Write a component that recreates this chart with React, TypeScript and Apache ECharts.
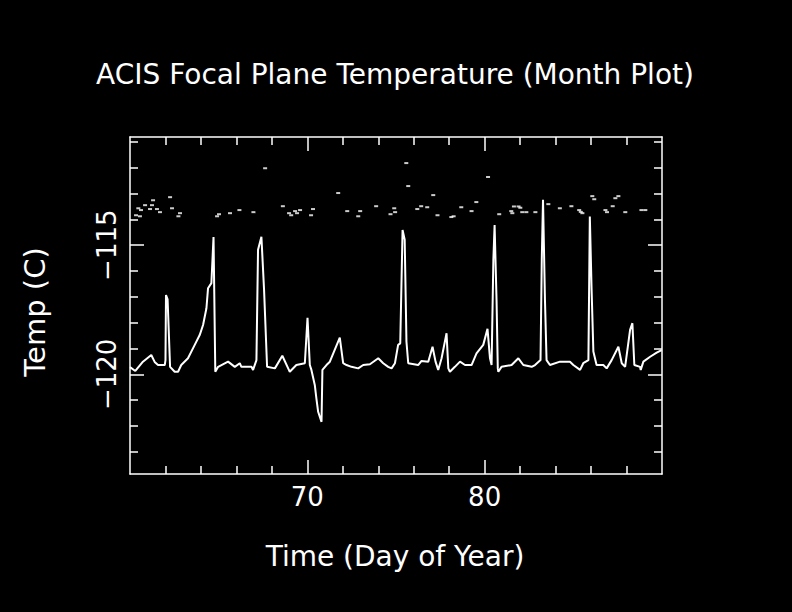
import React, { useEffect, useRef } from "react";
import * as echarts from "echarts";

// Axis ranges and ticks
const X_MIN = 60;
const X_MAX = 90;
const Y_MIN = -123.86;
const Y_MAX = -110.81;
const dayTicksMinor = [62, 64, 66, 68, 72, 74, 76, 78, 82, 84, 86, 88];
const dayTicksMajor = [70, 80];
const tempTicksMinor = [-123, -122, -121, -119, -118, -117, -116, -114, -113, -112, -111];
const tempTicksMajor = [-120, -115];

// Focal plane temperature (main trace)
const focalDays = [
  60.0, 60.3, 60.73, 61.2, 61.39, 61.58, 61.96, 62.0, 62.03, 62.12, 62.26, 62.52, 62.71, 62.89, 63.27, 63.65,
  63.93, 64.12, 64.31, 64.4, 64.59, 64.71, 64.81, 64.97, 65.53, 65.91, 66.19, 66.28, 66.85, 66.94, 67.13,
  67.22, 67.41, 67.56, 67.73, 68.17, 68.59, 68.92, 69.01, 69.38, 69.86, 70.01, 70.14, 70.23, 70.42, 70.51,
  70.61, 70.8, 70.85, 71.08, 71.27, 71.83, 72.02, 72.21, 72.49, 72.87, 73.15, 73.53, 74.0, 74.28, 74.56,
  74.75, 74.94, 75.12, 75.24, 75.37, 75.49, 75.59, 75.69, 76.25, 76.44, 76.82, 77.06, 77.23, 77.38, 77.57,
  77.85, 77.95, 78.04, 78.32, 78.61, 78.89, 79.26, 79.54, 79.92, 80.16, 80.3, 80.39, 80.49, 80.56, 80.67,
  80.74, 80.77, 80.95, 81.52, 81.9, 82.18, 82.65, 82.84, 83.15, 83.22, 83.29, 83.4, 83.49, 83.68, 84.25,
  84.81, 85.0, 85.38, 85.56, 85.85, 85.93, 86.03, 86.13, 86.31, 86.69, 86.88, 87.16, 87.54, 87.73, 87.92,
  88.2, 88.33, 88.44, 88.76, 88.8, 88.95, 89.33, 89.7, 89.98,
];
const focalTemps = [
  -119.72, -119.87, -119.51, -119.25, -119.52, -119.64, -119.64, -119.45, -116.93, -117.1, -119.71, -119.9,
  -119.9, -119.64, -119.38, -118.86, -118.48, -118.09, -117.44, -116.67, -116.47, -114.68, -119.9, -119.71,
  -119.51, -119.71, -119.57, -119.71, -119.71, -119.83, -119.45, -115.18, -114.67, -116.73, -119.71, -119.77,
  -119.28, -119.77, -119.9, -119.64, -119.57, -117.81, -119.64, -119.83, -120.41, -120.93, -121.45, -121.84,
  -119.83, -119.64, -119.51, -118.58, -119.57, -119.64, -119.71, -119.77, -119.64, -119.61, -119.38, -119.57,
  -119.71, -119.77, -119.57, -118.86, -118.8, -114.41, -114.79, -118.74, -119.57, -119.64, -119.48, -119.51,
  -118.93, -119.51, -119.83, -119.38, -118.41, -119.77, -119.9, -119.71, -119.51, -119.64, -119.64, -119.19,
  -118.86, -118.24, -119.38, -119.64, -115.57, -114.22, -117.12, -119.77, -119.9, -119.71, -119.64, -119.38,
  -119.64, -119.71, -119.64, -119.45, -115.57, -113.24, -117.12, -119.45, -119.64, -119.51, -119.51, -119.64,
  -119.83, -119.57, -119.45, -113.89, -116.73, -119.12, -119.64, -119.64, -119.77, -119.45, -118.93, -119.57,
  -119.71, -118.28, -118.02, -119.64, -119.71, -119.83, -119.51, -119.32, -119.16, -119.06,
];

// Scattered upper readings
const scatterDays = [
  60.34, 60.47, 60.56, 60.62, 60.85, 61.13, 61.24, 61.3, 61.52, 61.69, 62.26, 62.37, 62.73, 62.82, 64.91,
  65.02, 65.64, 66.17, 66.96, 67.62, 68.62, 68.97, 69.09, 69.31, 69.42, 69.59, 70.21, 70.32, 71.74, 72.25,
  72.87, 72.98, 73.88, 74.69, 74.9, 74.95, 75.58, 75.69, 76.2, 76.42, 76.76, 77.1, 77.34, 78.12, 78.25,
  78.68, 79.26, 79.53, 80.19, 80.82, 81.5, 81.56, 81.65, 81.91, 82.01, 82.12, 82.35, 82.86, 83.59, 84.24,
  84.89, 85.33, 85.42, 85.51, 86.07, 86.18, 86.81, 86.9, 87.22, 87.37, 87.54, 87.93, 88.84, 89.06,
];
const scatterTemps = [
  -113.84, -113.57, -113.88, -113.64, -113.45, -113.6, -113.45, -113.26, -113.6, -113.72, -113.14, -113.57,
  -113.88, -113.76, -113.88, -113.8, -113.76, -113.64, -113.72, -112.02, -113.49, -113.76, -113.84, -113.68,
  -113.76, -113.64, -113.84, -113.6, -112.98, -113.68, -113.88, -113.68, -113.49, -113.8, -113.57, -113.72,
  -111.82, -112.71, -113.6, -113.49, -113.53, -113.06, -113.84, -113.91, -113.88, -113.53, -113.68, -113.33,
  -112.36, -113.8, -113.68, -113.76, -113.5, -113.5, -113.55, -113.72, -113.72, -113.72, -113.41, -113.57,
  -113.49, -113.64, -113.71, -113.76, -113.1, -113.22, -113.64, -113.72, -113.49, -113.18, -113.1, -113.72,
  -113.64, -113.64,
];

const FONT = "DejaVu Sans";
const WHITE = "#ffffff";

function xAxisDef(position: "top" | "bottom", ticks: number[], len: number, showLine: boolean, labels: boolean) {
  return {
    type: "value",
    position,
    min: X_MIN,
    max: X_MAX,
    splitLine: { show: false },
    axisLine: { show: showLine, lineStyle: { color: WHITE, width: 1.5 } },
    axisTick: { show: true, inside: true, length: len, customValues: ticks, lineStyle: { color: WHITE, width: 1.5 } },
    axisLabel: labels
      ? { show: true, customValues: dayTicksMajor, color: WHITE, fontFamily: FONT, fontSize: 26, margin: 10 }
      : { show: false },
  };
}

function yAxisDef(position: "left" | "right", ticks: number[], len: number, showLine: boolean, labels: boolean) {
  return {
    type: "value",
    position,
    min: Y_MIN,
    max: Y_MAX,
    splitLine: { show: false },
    axisLine: { show: showLine, lineStyle: { color: WHITE, width: 1.5 } },
    axisTick: { show: true, inside: true, length: len, customValues: ticks, lineStyle: { color: WHITE, width: 1.5 } },
    axisLabel: labels
      ? {
          show: true,
          customValues: tempTicksMajor,
          rotate: 90,
          color: WHITE,
          fontFamily: FONT,
          fontSize: 26,
          margin: 10,
          formatter: (v: number) => "\u2212" + String(Math.abs(Math.round(v))),
        }
      : { show: false },
  };
}

export default function App() {
  const ref = useRef<HTMLDivElement>(null);
  useEffect(() => {
    if (!ref.current) return;
    const chart = echarts.init(ref.current, undefined, { renderer: "svg" });
    const linePts = focalDays.map((d, i) => [d, focalTemps[i]]);
    const scatPts = scatterDays.map((d, i) => [d, scatterTemps[i]]);
    chart.setOption({
      animation: false,
      backgroundColor: "#000000",
      grid: { left: 130, top: 137, right: 130, bottom: 138, containLabel: false },
      xAxis: [
        xAxisDef("bottom", dayTicksMinor, 8, true, true),
        xAxisDef("bottom", dayTicksMajor, 14, false, false),
        xAxisDef("top", dayTicksMinor, 8, true, false),
        xAxisDef("top", dayTicksMajor, 14, false, false),
      ],
      yAxis: [
        yAxisDef("left", tempTicksMinor, 8, true, true),
        yAxisDef("left", tempTicksMajor, 14, false, false),
        yAxisDef("right", tempTicksMinor, 8, true, false),
        yAxisDef("right", tempTicksMajor, 14, false, false),
      ],
      series: [
        {
          type: "line",
          xAxisIndex: 0,
          yAxisIndex: 0,
          data: linePts,
          showSymbol: false,
          symbol: "none",
          lineStyle: { color: WHITE, width: 2 },
        },
        {
          type: "scatter",
          xAxisIndex: 0,
          yAxisIndex: 0,
          data: scatPts,
          symbol: "rect",
          symbolSize: [4, 2],
          itemStyle: { color: WHITE },
        },
      ],
      graphic: [
        {
          type: "text",
          x: 395,
          y: 74,
          style: {
            text: "ACIS Focal Plane Temperature (Month Plot)",
            fill: WHITE,
            font: `28px "${FONT}"`,
            textAlign: "center",
            textVerticalAlign: "middle",
          },
        },
        {
          type: "text",
          x: 395,
          y: 556,
          style: {
            text: "Time (Day of Year)",
            fill: WHITE,
            font: `28px "${FONT}"`,
            textAlign: "center",
            textVerticalAlign: "middle",
          },
        },
        {
          type: "text",
          x: 35,
          y: 312,
          rotation: Math.PI / 2,
          style: {
            text: "Temp (C)",
            fill: WHITE,
            font: `29px "${FONT}"`,
            textAlign: "center",
            textVerticalAlign: "middle",
          },
        },
      ],
    });
    return () => chart.dispose();
  }, []);
  return (
    <div
      ref={ref}
      style={{ position: "fixed", left: 0, top: 0, width: 792, height: 612, background: "#000" }}
    />
  );
}
